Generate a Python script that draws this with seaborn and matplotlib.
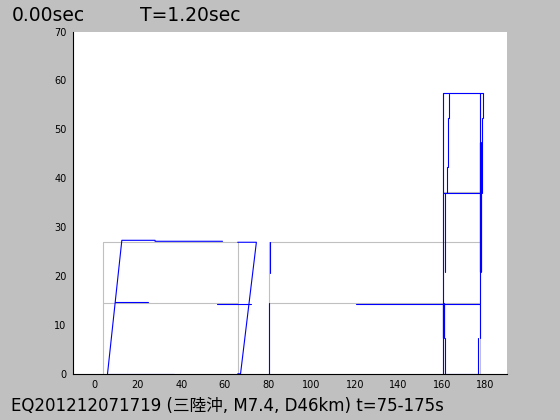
import numpy as np
import pandas as pd
import matplotlib
matplotlib.use("Agg")
import matplotlib.pyplot as plt
import seaborn as sns

# grey skeleton lines (x list, y list)
frame_left = [([4.1, 4.1, 65.9, 65.9], [0, 26.9, 26.9, 0]),
              ([4.1, 65.9], [14.5, 14.5])]
frame_right = [([80.4, 80.4, 177.5, 177.5], [0, 26.9, 26.9, 0]),
               ([80.4, 177.5], [14.5, 14.5])]
frame_top = [([160.7, 160.7, 177.5, 177.5], [0, 57.4, 57.4, 26.9]),
             ([160.7, 177.5], [37.1, 37.1])]

# blue trace pieces
trace_left = [([6.0, 36.8], [0, 0]),
              ([6.0, 12.6, 27.9, 27.9, 59.0], [0, 27.3, 27.3, 27.1, 27.1]),
              ([9.3, 24.8], [14.7, 14.7]),
              ([56.5, 72.0], [14.3, 14.3]),
              ([66.0, 67.3, 74.6, 66.0], [0, 0, 26.9, 26.9])]
trace_mid = [([80.4, 80.4], [0, 14.5]),
             ([80.8, 80.8], [20.7, 26.9]),
             ([120.7, 177.6], [14.3, 14.3])]
trace_right = [([160.6, 160.6, 179.2, 179.2], [0, 57.4, 57.4, 52.3]),
               ([163.3, 163.3, 162.9, 162.9, 162.4, 162.4], [57.2, 52.3, 52.3, 42.3, 42.3, 37.0]),
               ([160.7, 177.5], [37.0, 37.0]),
               ([177.5, 177.5], [7.3, 57.4]),
               ([178.6, 178.6], [37.0, 52.3]),
               ([161.5, 161.5], [20.9, 37.0]),
               ([161.5, 161.5, 176.9, 176.9], [7.3, 0, 0, 7.3])]
trace_thick = [([178.1, 178.1], [20.9, 47.2]),
               ([161.0, 161.0], [7.3, 14.3])]

title_left = "0.00sec"
title_right = "T=1.20sec"
caption = "EQ201212071719 (三陸沖, M7.4, D46km) t=75-175s"
x_ticks = list(range(0, 181, 20))
y_ticks = list(range(0, 71, 10))


def to_frame(paths):
    rows = []
    for i, (xs, ys) in enumerate(paths):
        for x, y in zip(xs, ys):
            rows.append({"x": x, "y": y, "seg": i})
    return pd.DataFrame(rows)


sns.set_style("white")
plt.rcParams['font.family'] = ['DejaVu Sans', 'Noto Sans CJK JP']
plt.rcParams['text.color'] = 'black'

fig = plt.figure(figsize=(5.6, 4.2), dpi=100, facecolor="#c0c0c0")
ax = fig.add_axes([0.13, 0.11, 0.775, 0.815])
ax.set_facecolor("white")

gray = to_frame(frame_left + frame_right + frame_top)
sns.lineplot(data=gray, x="x", y="y", units="seg", estimator=None, sort=False,
             color="#c0c0c0", lw=0.8, ax=ax)
blue = to_frame(trace_left + trace_mid + trace_right)
sns.lineplot(data=blue, x="x", y="y", units="seg", estimator=None, sort=False,
             color="#0000ff", lw=0.8, ax=ax)
thick = to_frame(trace_thick)
sns.lineplot(data=thick, x="x", y="y", units="seg", estimator=None, sort=False,
             color="#0000ff", lw=1.6, ax=ax)

ax.set_xlim(-10, 190)
ax.set_ylim(0, 70)
ax.set_xticks(x_ticks)
ax.set_yticks(y_ticks)
ax.set_xlabel("")
ax.set_ylabel("")
ax.tick_params(direction="in", length=3.5, width=0.8, labelsize=7, colors="black", pad=4.5)
for side in ["top", "right"]:
    ax.spines[side].set_visible(False)
for side in ["left", "bottom"]:
    ax.spines[side].set_color("black")
    ax.spines[side].set_linewidth(0.8)

fig.text(12 / 560, 1 - 20.7 / 420, title_left, fontsize=13.5, va="baseline", ha="left", color="black")
fig.text(140 / 560, 1 - 20.7 / 420, title_right, fontsize=13.5, va="baseline", ha="left", color="black")
fig.text(11 / 560, 1 - 410.7 / 420, caption, fontsize=12, va="baseline", ha="left", color="black")

fig.savefig("out.png", dpi=100, facecolor=fig.get_facecolor())
